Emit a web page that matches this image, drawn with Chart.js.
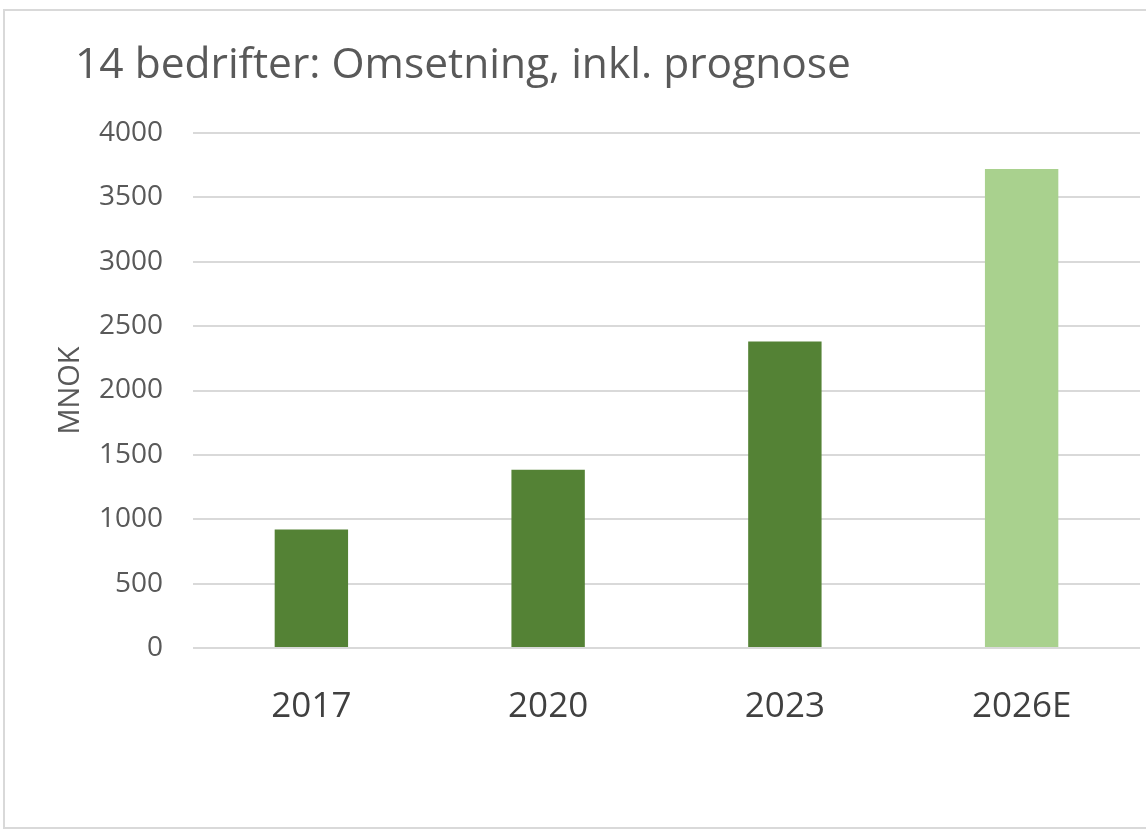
<!DOCTYPE html>
<html>
<head>
<meta charset="utf-8">
<script src="https://cdn.jsdelivr.net/npm/chart.js@4"></script>
<style>
  html, body { margin: 0; padding: 0; background: #fff; }
  #wrap { position: relative; width: 1146px; height: 830px; overflow: hidden; }
  #frame { position: absolute; left: 3px; top: 9px; width: 1160px; height: 820px;
           border: 2px solid #d9d9d9; box-sizing: border-box; }
  #box { position: absolute; left: 0; top: 0; width: 1146px; height: 830px; }
</style>
</head>
<body>
<div id="wrap">
  <div id="frame"></div>
  <div id="box"><canvas id="chart"></canvas></div>
</div>
<script>
const chartTitle = "14 bedrifter: Omsetning, inkl. prognose";
const years = ["2017", "2020", "2023", "2026E"];
const revenue = [920, 1385, 2380, 3720];
const yTicks = [0, 500, 1000, 1500, 2000, 2500, 3000, 3500, 4000];

const FONT = "'Open Sans', sans-serif";

// title drawn at a fixed spot, like the Excel chart title
const titlePlugin = {
    id: "fixedTitle",
    afterDraw(chart) {
        const ctx = chart.ctx;
        ctx.save();
        ctx.font = "42.5px " + FONT;
        ctx.fillStyle = "#595959";
        ctx.textBaseline = "middle";
        ctx.textAlign = "left";
        ctx.fillText(chartTitle, 75, 66);
        ctx.restore();
    }
};

new Chart(document.getElementById("chart"), {
    type: "bar",
    data: {
        labels: years,
        datasets: [{
            data: revenue,
            backgroundColor: ["#548235", "#548235", "#548235", "#A9D18E"],
            borderWidth: 0,
            categoryPercentage: 1,
            barPercentage: 0.31
        }]
    },
    options: {
        responsive: true,
        maintainAspectRatio: false,
        animation: false,
        layout: { padding: { left: 53, right: 6, top: 133, bottom: 72 } },
        plugins: {
            legend: { display: false },
            title: { display: false },
            tooltip: { enabled: false }
        },
        scales: {
            x: {
                grid: { display: false },
                border: { display: false },
                ticks: {
                    color: "#404040",
                    font: { family: FONT, size: 35 },
                    padding: 30
                }
            },
            y: {
                min: 0,
                max: 4000,
                afterFit(scale) { scale.width = 140; },
                afterBuildTicks(scale) { scale.ticks = yTicks.map(v => ({ value: v })); },
                grid: { color: "#d9d9d9", lineWidth: 2, drawTicks: false },
                border: { display: false },
                ticks: {
                    color: "#595959",
                    font: { family: FONT, size: 28 },
                    padding: 30,
                    callback: v => String(v)
                },
                title: {
                    display: true,
                    text: "MNOK",
                    color: "#595959",
                    font: { family: FONT, size: 29 },
                    padding: { top: 0, bottom: 0 }
                }
            }
        }
    },
    plugins: [titlePlugin]
});
</script>
</body>
</html>
